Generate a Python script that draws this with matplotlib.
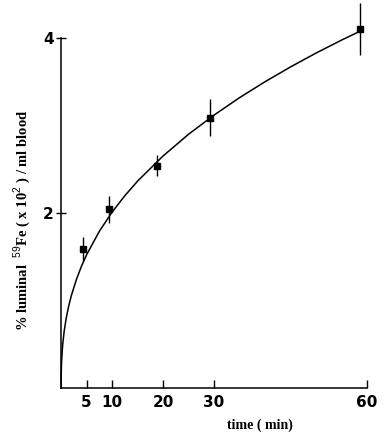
import matplotlib
matplotlib.use("Agg")
import matplotlib.pyplot as plt

# measured points (time in min, value, +/- error)
time_pts = [4.3, 9.4, 18.8, 29.2, 58.7]
fe_pts = [1.59, 2.04, 2.54, 3.09, 4.10]
fe_err = [0.14, 0.15, 0.12, 0.21, 0.30]

# fitted curve
curve_t = [0, 0.02, 0.05, 0.1, 0.3, 0.6, 1, 1.5, 2, 3, 4, 5, 7.5, 10, 12.5, 15, 20, 25,
           30, 35, 40, 45, 50, 55, 58.7]
curve_v = [0, 0.167, 0.241, 0.318, 0.494, 0.652, 0.800, 0.941, 1.056, 1.241, 1.393, 1.523,
           1.791, 2.010, 2.197, 2.364, 2.651, 2.899, 3.118, 3.317, 3.499, 3.668, 3.826,
           3.974, 4.078]

xticks = [5, 10, 20, 30, 60]
yticks = [2, 4]

plt.rcParams['mathtext.fontset'] = 'custom'
plt.rcParams['mathtext.rm'] = 'Liberation Sans'

fig = plt.figure(figsize=(3.87, 4.46), dpi=100)
ax = fig.add_axes([0.158, 0.130, 0.790, 0.785])

ax.plot(curve_t, curve_v, color='black', lw=1.1, clip_on=False)
ax.errorbar(time_pts, fe_pts, yerr=fe_err, fmt='s', color='black', ms=4.5,
            elinewidth=1.0, capsize=0, clip_on=False)

ax.set_xlim(0, 60)
ax.set_ylim(0, 4)
ax.spines['top'].set_visible(False)
ax.spines['right'].set_visible(False)
for s in ['left', 'bottom']:
    ax.spines[s].set_linewidth(1.1)

ax.set_xticks(xticks)
ax.set_yticks(yticks)
ax.set_xticklabels([str(t) for t in xticks], fontsize=11, fontweight='bold',
                   family='DejaVu Sans')
ax.set_yticklabels([str(t) for t in yticks], fontsize=11, fontweight='bold',
                   family='DejaVu Sans')
ax.tick_params(axis='x', direction='in', length=6, width=1, pad=5)
ax.tick_params(axis='y', direction='inout', length=7, width=1, pad=2)

ax.set_ylabel(r'% luminal  $^{59}$Fe ( x 10$^{2}$ ) / ml blood',
              fontsize=10.5, family='Liberation Serif', fontweight='bold')
ax.yaxis.set_label_coords(-0.093, 0.48)
ax.text(0.65, -0.105, 'time ( min)', transform=ax.transAxes, ha='center', va='center',
        fontsize=10, family='Liberation Serif', fontweight='bold')

fig.savefig('out.png', dpi=100)
